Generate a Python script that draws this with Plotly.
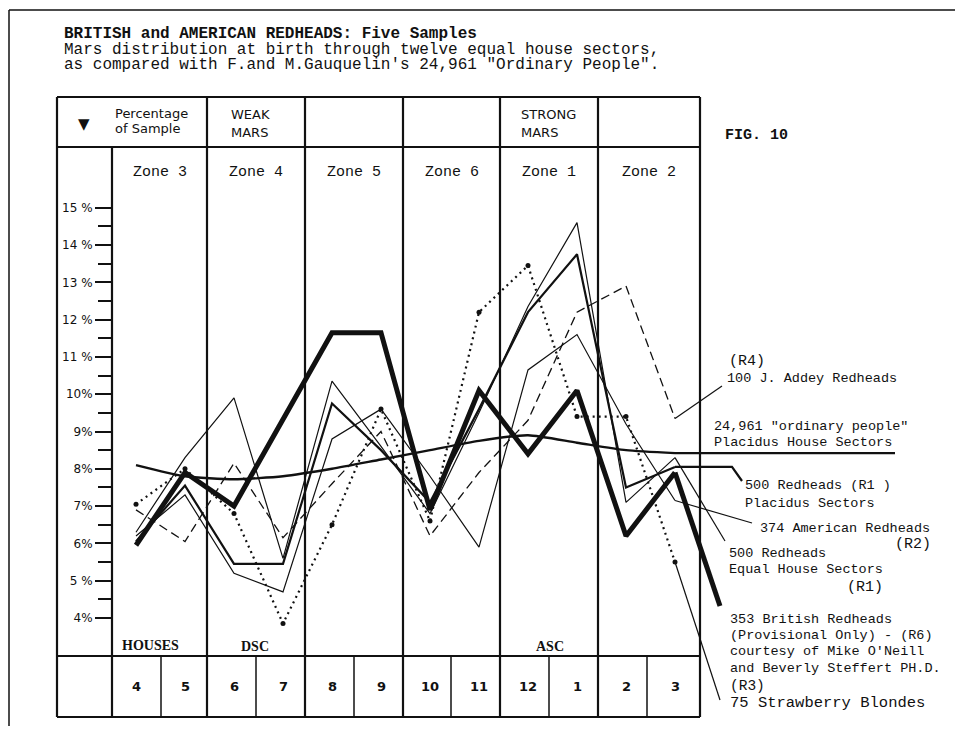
import plotly.graph_objects as go

# ---------------- data ----------------
houses = ["4", "5", "6", "7", "8", "9", "10", "11", "12", "1", "2", "3"]
zones = ["Zone 3", "Zone 4", "Zone 5", "Zone 6", "Zone 1", "Zone 2"]
pct_ticks = [4, 5, 6, 7, 8, 9, 10, 11, 12, 13, 14, 15]
pct_labels = ["4%", "5 %", "6%", "7%", "8%", "9%", "10%", "11 %", "12 %", "13 %", "14 %", "15 %"]

ordinary_people = [8.1, 7.8, 7.72, 7.8, 8.0, 8.25, 8.5, 8.75, 8.9, 8.7, 8.5, 8.42]
british_r6 = [5.95, 7.9, 7.0, 9.3, 11.65, 11.65, 6.9, 10.1, 8.4, 10.1, 6.2, 7.9]
strawberry_r3 = [7.05, 8.0, 6.8, 3.85, 6.5, 9.6, 6.6, 12.2, 13.45, 9.4, 9.4, 5.5]
addey_r4 = [6.9, 6.05, 8.15, 6.15, 7.6, 9.0, 6.2, 7.9, 9.3, 12.2, 12.9, 9.35]
placidus_r1 = [6.05, 7.55, 5.45, 5.45, 9.75, 8.5, 7.1, 9.6, 12.2, 13.75, 7.5, 8.05]
american_r2 = [6.2, 7.3, 5.2, 4.7, 8.8, 9.6, 7.8, 5.9, 10.65, 11.6, 9.2, 7.15]
equal_r1 = [6.3, 8.3, 9.9, 5.6, 10.35, 8.6, 6.8, 9.5, 12.35, 14.6, 7.1, 8.3]

# ---------------- geometry / style ----------------
W, H = 963, 734           # page (window) size
OFF = 8                   # default body margin of the html page
FW, FH = W - 2 * OFF, H - 2 * OFF   # figure size
X0, DX = 136, 49          # page pixel of first house, pixels per house
Y4, DY = 618, 37.3        # page pixel of 4 %, pixels per 1 %
INK = "#111111"
MONO = "Liberation Mono"
SANS = "DejaVu Sans"
SERIF = "Liberation Serif"


def px2x(p):
    return (p - X0) / DX


def py2y(p):
    return 4 + (Y4 - p) / DY


def PX(p):
    return (p - OFF) / FW


def PY(p):
    return 1 - (p - OFF) / FH


idx = list(range(len(houses)))
fig = go.Figure()


def series(vals, width, dash="solid", markers=False):
    fig.add_trace(go.Scatter(
        x=idx, y=vals, mode="lines+markers" if markers else "lines",
        line=dict(color=INK, width=width, dash=dash),
        marker=dict(size=5, color=INK), hoverinfo="skip"))


def leader(pts, width, dash="solid"):
    fig.add_trace(go.Scatter(
        x=[p[0] for p in pts], y=[p[1] for p in pts], mode="lines",
        line=dict(color=INK, width=width, dash=dash), hoverinfo="skip"))


# leaders from the last point to the labels (page-pixel anchor positions)
last = len(houses) - 1
leader([(last, ordinary_people[-1]), (px2x(895), ordinary_people[-1])], 2.4)
leader([(last, addey_r4[-1]), (px2x(722), py2y(386))], 1.2)
leader([(last, placidus_r1[-1]), (px2x(732), placidus_r1[-1]), (px2x(742), py2y(481))], 2.2)
leader([(last, american_r2[-1]), (px2x(752), py2y(523))], 1.2)
leader([(last, equal_r1[-1]), (px2x(725), py2y(541))], 1.2)
leader([(last, british_r6[-1]), (px2x(720), py2y(606))], 5)
leader([(last, strawberry_r3[-1]), (px2x(720), py2y(700))], 1.2)

fig.add_trace(go.Scatter(x=idx, y=ordinary_people, mode="lines",
                         line=dict(color=INK, width=2.4, shape="spline", smoothing=0.6),
                         hoverinfo="skip"))
series(equal_r1, 1.2)
series(american_r2, 1.2)
series(placidus_r1, 2.2)
series(addey_r4, 1.3, dash="9px,5px")
series(strawberry_r3, 2.2, dash="2px,4px", markers=True)
series(british_r6, 5)

# ---------------- frame shapes (page-pixel positions) ----------------
shapes = []


def L(x0, y0, x1, y1, w=2.0):
    shapes.append(dict(type="line", xref="paper", yref="paper",
                       x0=PX(x0), y0=PY(y0), x1=PX(x1), y1=PY(y1),
                       line=dict(color=INK, width=w)))


BOX_L, BOX_R, TOP, HDR, BOT_ROW, BOT = 57, 700, 97, 147, 656, 717
zone_edges = [112, 207, 305, 403, 500, 598, 700]
house_edges = [161, 256, 354, 451, 549, 647]

# outer page frame
L(9, 10, W, 10, 1.5)
L(9, 10, 9, H, 1.5)
# chart box
L(BOX_L, TOP, BOX_R, TOP, 2.2)
L(BOX_L, HDR, BOX_R, HDR, 2.2)
L(BOX_L, BOT_ROW, BOX_R, BOT_ROW, 2.2)
L(BOX_L, BOT, BOX_R, BOT, 2.2)
L(BOX_L, TOP, BOX_L, BOT, 2.2)
L(BOX_R, TOP, BOX_R, BOT, 2.2)
L(112, HDR, 112, BOT, 2.2)
for e in zone_edges[1:-1]:
    L(e, TOP, e, BOT, 2.2)
for e in house_edges:
    L(e, BOT_ROW, e, BOT, 1.5)

# ---------------- text ----------------
ann = []


def T(text, x, y, size, family=MONO, xanchor="left"):
    ann.append(dict(text=text, x=PX(x), y=PY(y), xref="paper", yref="paper",
                    xanchor=xanchor, yanchor="middle", showarrow=False,
                    font=dict(family=family, size=size, color=INK)))


T("<b>BRITISH and AMERICAN REDHEADS: Five Samples</b>", 62, 34, 16)
T("Mars distribution at birth through twelve equal house sectors,", 62, 49.5, 16)
T("as compared with F.and M.Gauquelin's 24,961 \"Ordinary People\".", 62, 65, 16)

T("▼", 84, 124, 15, SANS, "center")
T("Percentage", 113, 113, 13, SANS)
T("of Sample", 113, 128, 13, SANS)
T("WEAK", 229, 114, 13, SANS)
T("MARS", 229, 132, 13, SANS)
T("STRONG", 519, 114, 13, SANS)
T("MARS", 519, 132, 13, SANS)
T("<b>FIG. 10</b>", 723, 136, 15)

for i, z in enumerate(zones):
    T(z, (zone_edges[i] + zone_edges[i + 1]) / 2, 172, 15, MONO, "center")

T("<b>HOUSES</b>", 150, 645, 14, SERIF, "center")
T("<b>DSC</b>", 255, 646, 14, SERIF, "center")
T("<b>ASC</b>", 550, 646, 14, SERIF, "center")

for i, h in enumerate(houses):
    ann.append(dict(text="<b>" + h + "</b>", x=i, y=PY(686), xref="x", yref="paper",
                    xanchor="center", yanchor="middle", showarrow=False,
                    font=dict(family=SANS, size=13, color=INK)))

# right-hand labels
T("(R4)", 727, 361, 15)
T("100 J. Addey Redheads", 725, 378, 13.5)
T("24,961 \"ordinary people\"", 712, 426, 13.5)
T("Placidus House Sectors", 712, 442, 13.5)
T("500 Redheads (R1 )", 743, 485, 13.5)
T("Placidus Sectors", 743, 503, 13.5)
T("374 American Redheads", 758, 528, 13.5)
T("(R2)", 893, 544, 15)
T("500 Redheads", 727, 553, 13.5)
T("Equal House Sectors", 727, 569, 13.5)
T("(R1)", 845, 587, 15)
T("353 British Redheads", 728, 619, 13.5)
T("(Provisional Only) - (R6)", 728, 635, 13.5)
T("courtesy of Mike O'Neill", 728, 651, 13.5)
T("and Beverly Steffert PH.D.", 728, 668, 13.5)
T("(R3)", 728, 686, 14.5)
T("75 Strawberry Blondes", 728, 703, 15.5)

fig.update_layout(
    width=FW, height=FH, margin=dict(l=0, r=0, t=0, b=0),
    paper_bgcolor="white", plot_bgcolor="white", showlegend=False,
    xaxis=dict(range=[px2x(OFF), px2x(OFF + FW)], visible=False, fixedrange=True),
    yaxis=dict(range=[py2y(OFF + FH), py2y(OFF)], anchor="free", position=PX(112), side="left",
               showgrid=False, zeroline=False, showline=False, fixedrange=True,
               tickmode="array", tickvals=pct_ticks, ticktext=pct_labels,
               ticks="outside", ticklen=17, tickwidth=1.5, tickcolor=INK,
               tickfont=dict(family=SANS, size=12, color=INK),
               minor=dict(tickmode="array", tickvals=[v + 0.5 for v in pct_ticks[:-1]],
                          ticks="outside", ticklen=14, tickwidth=1.5, tickcolor=INK)),
    shapes=shapes, annotations=ann,
)

fig.write_html("out.html")
